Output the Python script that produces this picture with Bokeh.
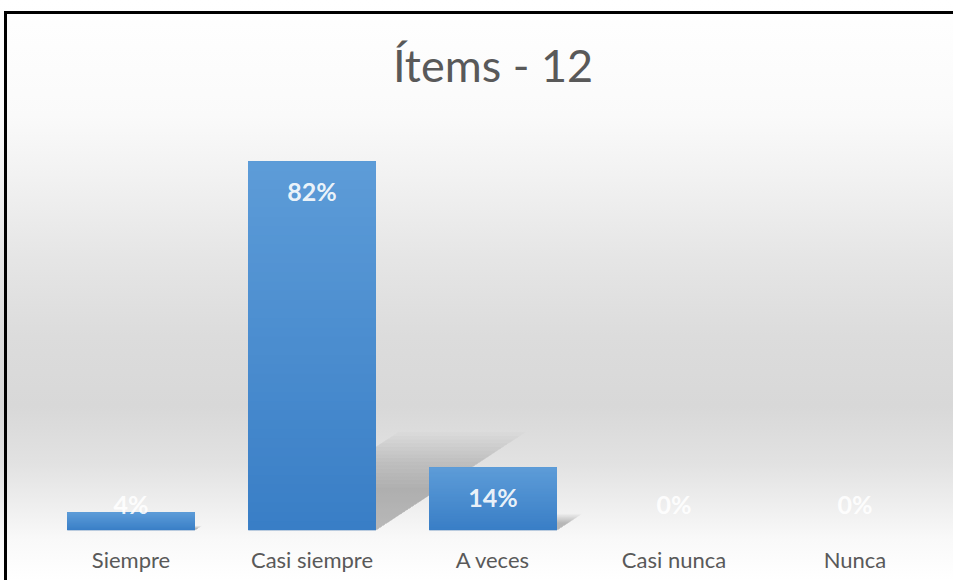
import numpy as np
from bokeh.plotting import figure
from bokeh.models import FactorRange, Range1d
from bokeh.core.properties import value
from bokeh.embed import file_html
from bokeh.resources import INLINE

# ---- data ----
categories = ["Siempre", "Casi siempre", "A veces", "Casi nunca", "Nunca"]
percentages = [4, 82, 14, 0, 0]
label_texts = ["4%", "82%", "14%", "0%", "0%"]
title_text = "Ítems - 12"

# ---- style ----
W, H = 953, 580
BAR_W = 0.707
FONT = "Lato"
GREY_TEXT = "#595959"

p = figure(
    x_range=FactorRange(*categories, range_padding=0),
    y_range=Range1d(0, 90),
    width=W, height=H,
    output_backend="svg", toolbar_location=None,
    min_border_left=40, min_border_right=8,
    min_border_top=125, min_border_bottom=50,
    title=title_text,
)
p.background_fill_color = None
p.border_fill_color = None
p.outline_line_color = None
p.xgrid.grid_line_color = None
p.ygrid.grid_line_color = None
p.yaxis.visible = False

p.xaxis.axis_line_color = None
p.xaxis.major_tick_line_color = None
p.xaxis.minor_tick_line_color = None
p.xaxis.major_label_text_font = FONT
p.xaxis.major_label_text_font_size = "22px"
p.xaxis.major_label_text_color = GREY_TEXT
p.xaxis.major_label_standoff = 9

p.title.text_font = FONT
p.title.text_font_size = "45px"
p.title.text_font_style = "normal"
p.title.text_color = GREY_TEXT
p.title.align = "center"
p.title.standoff = 68
p.title.offset = -10

p.styles = {
    "background": (
        "linear-gradient(#000, #000) 4px 11px / 3px 100% no-repeat, "
        "linear-gradient(#000, #000) 4px 11px / 100% 3px no-repeat, "
        "linear-gradient(to bottom, #ffffff 0%, #fafafa 20%, #f2f2f2 30%, #e5e5e5 45%, "
        "#dcdcdc 58%, #d8d8d8 70%, #e2e2e2 80%, #f0f0f0 88%, #f9f9f9 93%, #ffffff 100%)"
    ),
}

# ---- soft perspective shadows (behind bars) ----
KX, KY = 0.72 / 82, 19.0 / 82
for scale in np.linspace(1.15, 0.5, 16):
    xs_sh, ys_sh = [], []
    for i, v in enumerate(percentages):
        if v <= 0:
            continue
        xc = i + 0.5
        xl, xr = xc - BAR_W / 2, xc + BAR_W / 2
        dx, dy = KX * v * scale, KY * v * scale
        xs_sh.append([xl, xr, xr + dx, xl + dx])
        ys_sh.append([0, 0, dy, dy])
    p.patches(xs_sh, ys_sh, fill_color="#000000", fill_alpha=0.017, line_color=None)

# ---- bars with vertical gradient ----
N = 40
top_c = np.array([0x5d, 0x9c, 0xd8], dtype=float)
bot_c = np.array([0x39, 0x7e, 0xc6], dtype=float)
bx, bb, bt, bc = [], [], [], []
for c, v in zip(categories, percentages):
    if v <= 0:
        continue
    for k in range(N):
        f = (k + 0.5) / N
        col = bot_c + (top_c - bot_c) * f
        bx.append(c)
        bb.append(v * k / N)
        bt.append(v)
        bc.append("#%02x%02x%02x" % tuple(int(round(x)) for x in col))
p.vbar(x=bx, bottom=bb, top=bt, width=BAR_W, fill_color=bc, line_color=None)

# ---- data labels (inside end; short bars keep a minimum height) ----
label_y = np.maximum(np.array(percentages, dtype=float), 12.4)
p.text(x=categories, y=label_y, text=label_texts, y_offset=29,
       text_align="center", text_baseline="middle", text_color="white",
       text_alpha=0.9, text_font=value(FONT), text_font_style="bold",
       text_font_size="25px")

open("out.html", "w").write(file_html(p, INLINE))
